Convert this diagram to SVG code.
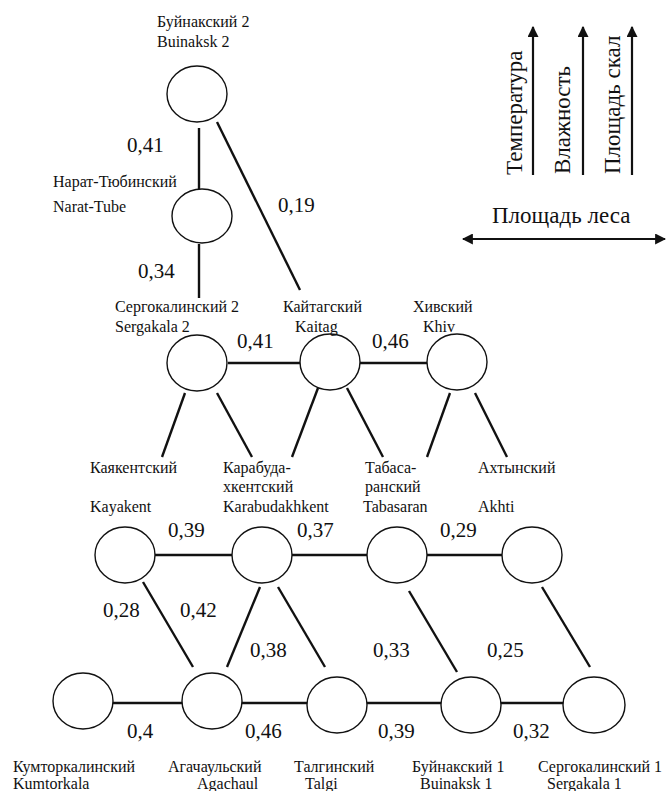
<svg xmlns="http://www.w3.org/2000/svg" width="667" height="791" viewBox="0 0 667 791" font-family="Liberation Serif, DejaVu Serif, serif">
<defs>
<style>
.n{fill:#fff;stroke:#111;stroke-width:1.4}
.e{stroke:#111;stroke-width:2.4;fill:none}
text{fill:#111}
.lbl{font-size:16px}
.w{font-size:21px}
.leg{font-size:23px}
.ax{stroke:#111;stroke-width:2.2;fill:none}
</style>
<marker id="ah" viewBox="0 0 10 10" refX="9" refY="5" markerWidth="5" markerHeight="5" orient="auto-start-reverse" markerUnits="strokeWidth">
<path d="M0,0 L10,5 L0,10 z" fill="#111"/>
</marker>
</defs>
<rect width="667" height="791" fill="#fff"/>
<g id="connectors">
<line class="e" x1="199" y1="128" x2="199" y2="189"/>
<line class="e" x1="199" y1="244" x2="199" y2="298"/>
<line class="e" x1="217" y1="122" x2="300" y2="290"/>
<line class="e" x1="228" y1="363" x2="300" y2="363"/>
<line class="e" x1="360" y1="363" x2="427" y2="363"/>
<line class="e" x1="185" y1="393" x2="162" y2="457"/>
<line class="e" x1="217" y1="393" x2="252" y2="457"/>
<line class="e" x1="318" y1="388" x2="292" y2="457"/>
<line class="e" x1="347" y1="388" x2="383" y2="457"/>
<line class="e" x1="450" y1="393" x2="427" y2="457"/>
<line class="e" x1="475" y1="393" x2="507" y2="457"/>
<line class="e" x1="155" y1="555" x2="232" y2="555"/>
<line class="e" x1="292" y1="555" x2="367" y2="555"/>
<line class="e" x1="427" y1="555" x2="502" y2="555"/>
<line class="e" x1="143" y1="582" x2="193" y2="667"/>
<line class="e" x1="260" y1="587" x2="227" y2="667"/>
<line class="e" x1="278" y1="587" x2="325" y2="667"/>
<line class="e" x1="409" y1="591" x2="457" y2="672"/>
<line class="e" x1="542" y1="587" x2="590" y2="667"/>
<line class="e" x1="113" y1="703" x2="182" y2="703"/>
<line class="e" x1="242" y1="703" x2="307" y2="703"/>
<line class="e" x1="367" y1="703" x2="441" y2="703"/>
<line class="e" x1="500" y1="703" x2="564" y2="703"/>
</g>
<g id="weights">
<text class="w" x="127" y="152">0,41</text>
<text class="w" x="278" y="212">0,19</text>
<text class="w" x="138" y="278">0,34</text>
<text class="w" x="237" y="348">0,41</text>
<text class="w" x="372" y="348">0,46</text>
<text class="w" x="168" y="537">0,39</text>
<text class="w" x="297" y="537">0,37</text>
<text class="w" x="440" y="537">0,29</text>
<text class="w" x="103" y="617">0,28</text>
<text class="w" x="180" y="617">0,42</text>
<text class="w" x="250" y="657">0,38</text>
<text class="w" x="373" y="657">0,33</text>
<text class="w" x="487" y="657">0,25</text>
<text class="w" x="127" y="738">0,4</text>
<text class="w" x="245" y="738">0,46</text>
<text class="w" x="378" y="738">0,39</text>
<text class="w" x="513" y="738">0,32</text>
</g>
<g id="buinaksk2">
<ellipse class="n" cx="197" cy="94" rx="30" ry="28"/>
<text class="lbl" x="157" y="27">Буйнакский 2</text>
<text class="lbl" x="157" y="47">Buinaksk 2</text>
</g>
<g id="narat-tube">
<ellipse class="n" cx="202" cy="216" rx="30" ry="27"/>
<text class="lbl" x="53" y="187">Нарат-Тюбинский</text>
<text class="lbl" x="53" y="212">Narat-Tube</text>
</g>
<g id="sergakala2">
<ellipse class="n" cx="197" cy="363" rx="30" ry="28"/>
<text class="lbl" x="115" y="312">Сергокалинский 2</text>
<text class="lbl" x="115" y="332">Sergakala 2</text>
</g>
<g id="kaitag">
<ellipse class="n" cx="330" cy="362" rx="30" ry="28"/>
<text class="lbl" x="283" y="312">Кайтагский</text>
<text class="lbl" x="295" y="332">Kaitag</text>
</g>
<g id="khiv">
<ellipse class="n" cx="457" cy="362" rx="30" ry="28"/>
<text class="lbl" x="413" y="312">Хивский</text>
<text class="lbl" x="423" y="332">Khiv</text>
</g>
<g id="kayakent">
<ellipse class="n" cx="125" cy="555" rx="30" ry="28"/>
<text class="lbl" x="90" y="473">Каякентский</text>
<text class="lbl" x="90" y="512">Kayakent</text>
</g>
<g id="karabudakhkent">
<ellipse class="n" cx="262" cy="555" rx="30" ry="28"/>
<text class="lbl" x="223" y="473">Карабуда-</text>
<text class="lbl" x="223" y="492">хкентский</text>
<text class="lbl" x="223" y="512">Karabudakhkent</text>
</g>
<g id="tabasaran">
<ellipse class="n" cx="397" cy="555" rx="30" ry="28"/>
<text class="lbl" x="365" y="473">Табаса-</text>
<text class="lbl" x="365" y="492">ранский</text>
<text class="lbl" x="363" y="512">Tabasaran</text>
</g>
<g id="akhti">
<ellipse class="n" cx="532" cy="555" rx="30" ry="28"/>
<text class="lbl" x="478" y="473">Ахтынский</text>
<text class="lbl" x="478" y="512">Akhti</text>
</g>
<g id="kumtorkala">
<ellipse class="n" cx="83" cy="701" rx="30" ry="28"/>
<text class="lbl" x="13" y="772">Кумторкалинский</text>
<text class="lbl" x="13" y="789">Kumtorkala</text>
</g>
<g id="agachaul">
<ellipse class="n" cx="212" cy="701" rx="30" ry="28"/>
<text class="lbl" x="168" y="772">Агачаульский</text>
<text class="lbl" x="197" y="789">Agachaul</text>
</g>
<g id="talgi">
<ellipse class="n" cx="337" cy="705" rx="30" ry="28"/>
<text class="lbl" x="294" y="772">Талгинский</text>
<text class="lbl" x="305" y="789">Talgi</text>
</g>
<g id="buinaksk1">
<ellipse class="n" cx="471" cy="705" rx="30" ry="28"/>
<text class="lbl" x="412" y="772">Буйнакский 1</text>
<text class="lbl" x="420" y="789">Buinaksk 1</text>
</g>
<g id="sergakala1">
<ellipse class="n" cx="594" cy="705" rx="31" ry="28"/>
<text class="lbl" x="538" y="772">Сергокалинский 1</text>
<text class="lbl" x="547" y="789">Sergakala 1</text>
</g>
<g id="legend">
<line class="ax" x1="533" y1="175" x2="533" y2="27" marker-end="url(#ah)"/>
<line class="ax" x1="583" y1="175" x2="583" y2="27" marker-end="url(#ah)"/>
<line class="ax" x1="632" y1="175" x2="632" y2="27" marker-end="url(#ah)"/>
<line class="ax" x1="463" y1="239" x2="665" y2="239" marker-start="url(#ah)" marker-end="url(#ah)"/>
<text class="leg" transform="translate(522,175) rotate(-90)">Температура</text>
<text class="leg" transform="translate(570,174) rotate(-90)">Влажность</text>
<text class="leg" transform="translate(620,174) rotate(-90)">Площадь скал</text>
<text class="leg" x="492" y="223">Площадь леса</text>
</g>
</svg>
